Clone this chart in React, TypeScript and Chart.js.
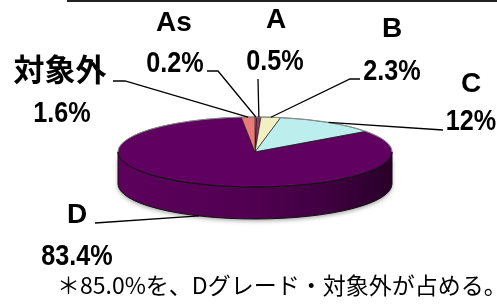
import React, { useEffect, useRef } from 'react';
import { Chart, registerables } from 'chart.js';
Chart.register(...registerables);

const categories = ['As', 'A', 'B', 'C', 'D', '対象外'];
const shares = [0.2, 0.5, 2.3, 12, 83.4, 1.6];
const shareLabels = ['0.2%', '0.5%', '2.3%', '12%', '83.4%', '1.6%'];
const sliceColors = ['#9999ff', '#993366', '#f0f0c2', '#bdeeee', '#600060', '#e87a78'];
const noteText = '＊85.0%を、Dグレード・対象外が占める。';

const W = 497;
const H = 305;
const RADIUS = 137;
const RY = 35;
const DEPTH = 32;
const K = RY / RADIUS;

// label placement: name position, value position, leader points (from label side)
const labelLayout = [
  { nx: 174, ny: 31, px: 175, py: 72, leader: [[207, 71], [218, 71]] },
  { nx: 276, ny: 28, px: 275, py: 70, leader: [[258, 79]] },
  { nx: 392, ny: 37, px: 392, py: 80, leader: [[360, 79], [350, 79]] },
  { nx: 471, ny: 92, px: 471, py: 130, leader: [[443, 130]] },
  { nx: 77, ny: 223, px: 77, py: 265, leader: [[95, 223]] },
  { nx: 60, ny: 81, px: 62, py: 122, leader: [[113, 81], [125, 81]] },
];

function shade(hex: string, f: number) {
  const n = parseInt(hex.slice(1), 16);
  const r = Math.round(((n >> 16) & 255) * f);
  const g = Math.round(((n >> 8) & 255) * f);
  const b = Math.round((n & 255) * f);
  return `rgb(${r},${g},${b})`;
}

const pie3d = {
  id: 'pie3d',
  beforeDatasetsDraw(chart: any) {
    const ctx = chart.ctx as CanvasRenderingContext2D;
    const meta = chart.getDatasetMeta(0);
    ctx.save();
    meta.data.forEach((el: any, i: number) => {
      const { x, y, startAngle, endAngle, outerRadius } = el.getProps(
        ['x', 'y', 'startAngle', 'endAngle', 'outerRadius'], true);
      const ry = outerRadius * K;
      for (const off of [0, 2 * Math.PI, -2 * Math.PI]) {
        const a1 = Math.max(startAngle + off, 0);
        const a2 = Math.min(endAngle + off, Math.PI);
        if (a2 <= a1) continue;
        const g = ctx.createLinearGradient(x - outerRadius, 0, x + outerRadius, 0);
        const c = sliceColors[i];
        g.addColorStop(0, shade(c, 0.97));
        g.addColorStop(0.45, shade(c, 0.85));
        g.addColorStop(0.75, shade(c, 0.68));
        g.addColorStop(1, shade(c, 0.42));
        ctx.save();
        ctx.beginPath();
        ctx.ellipse(x, y, outerRadius, ry, 0, a1, a2, false);
        ctx.lineTo(x + outerRadius * Math.cos(a2), y + DEPTH + ry * Math.sin(a2));
        ctx.ellipse(x, y + DEPTH, outerRadius, ry, 0, a2, a1, true);
        ctx.closePath();
        ctx.shadowColor = 'rgba(0,0,0,0.35)';
        ctx.shadowBlur = 4;
        ctx.shadowOffsetY = 2;
        ctx.fillStyle = g;
        ctx.fill();
        ctx.restore();
        ctx.save();
        ctx.strokeStyle = '#111';
        ctx.lineWidth = 1;
        ctx.beginPath();
        ctx.moveTo(x + outerRadius * Math.cos(a1), y + ry * Math.sin(a1));
        ctx.lineTo(x + outerRadius * Math.cos(a1), y + DEPTH + ry * Math.sin(a1));
        ctx.ellipse(x, y + DEPTH, outerRadius, ry, 0, a1, a2, false);
        ctx.lineTo(x + outerRadius * Math.cos(a2), y + ry * Math.sin(a2));
        ctx.stroke();
        ctx.restore();
      }
    });
    const cy = meta.data[0].y;
    ctx.translate(0, cy);
    ctx.scale(1, K);
    ctx.translate(0, -cy);
  },
  afterDatasetsDraw(chart: any) {
    const ctx = chart.ctx as CanvasRenderingContext2D;
    ctx.restore();
    const meta = chart.getDatasetMeta(0);
    const el0 = meta.data[0];
    const x = el0.x, y = el0.y, R = el0.outerRadius, ry = R * K;
    // rims
    ctx.save();
    ctx.lineWidth = 1;
    ctx.strokeStyle = 'rgba(150,150,150,0.8)';
    ctx.beginPath();
    ctx.ellipse(x, y, R, ry, 0, Math.PI, 2 * Math.PI, false);
    ctx.stroke();
    ctx.strokeStyle = '#111';
    ctx.beginPath();
    ctx.ellipse(x, y, R, ry, 0, 0, Math.PI, false);
    ctx.stroke();
    ctx.restore();

    // top rule
    ctx.fillStyle = '#222';
    ctx.fillRect(67, 0, W - 67, 2);

    // leaders and labels
    meta.data.forEach((el: any, i: number) => {
      const mid = (el.startAngle + el.endAngle) / 2;
      const ax = el.x + el.outerRadius * Math.cos(mid);
      let ay = el.y + el.outerRadius * K * Math.sin(mid);
      if (Math.sin(mid) > 0.2) ay += DEPTH;
      const L = labelLayout[i];
      ctx.save();
      ctx.strokeStyle = '#000';
      ctx.lineWidth = 1.3;
      ctx.beginPath();
      L.leader.forEach((p, j) => (j === 0 ? ctx.moveTo(p[0], p[1]) : ctx.lineTo(p[0], p[1])));
      ctx.lineTo(ax, ay);
      ctx.stroke();
      ctx.restore();

      ctx.save();
      ctx.fillStyle = '#000';
      ctx.textAlign = 'center';
      ctx.textBaseline = 'alphabetic';
      const name = categories[i];
      if (/^[A-Za-z]+$/.test(name)) {
        ctx.font = "bold 28px 'Liberation Sans', Arial, sans-serif";
      } else {
        ctx.font = "bold 31px 'Noto Sans CJK JP', sans-serif";
      }
      ctx.fillText(name, L.nx, L.ny);
      ctx.translate(L.px, L.py);
      ctx.scale(0.84, 1);
      ctx.font = "bold 30px 'Liberation Sans', Arial, sans-serif";
      ctx.fillText(shareLabels[i], 0, 0);
      ctx.restore();
    });

    ctx.save();
    ctx.fillStyle = '#000';
    ctx.textAlign = 'left';
    ctx.font = "23px 'Noto Sans CJK JP', sans-serif";
    ctx.fillText(noteText, 57, 294);
    ctx.restore();
  },
};

export default function App() {
  const ref = useRef<HTMLCanvasElement>(null);
  useEffect(() => {
    const chart = new Chart(ref.current as HTMLCanvasElement, {
      type: 'pie',
      data: {
        labels: categories,
        datasets: [
          {
            data: shares,
            backgroundColor: sliceColors,
            borderColor: '#111',
            borderWidth: 1,
            radius: RADIUS,
            clip: false,
          } as any,
        ],
      },
      options: {
        responsive: false,
        animation: false,
        events: [],
        layout: { padding: { left: 13, right: 0, top: 0, bottom: 1 } },
        plugins: { legend: { display: false }, tooltip: { enabled: false } },
      },
      plugins: [pie3d],
    });
    return () => chart.destroy();
  }, []);
  return (
    <div style={{ position: 'absolute', left: 0, top: 0, width: W, height: H, background: '#fff' }}>
      <canvas ref={ref} width={W} height={H} style={{ display: 'block', width: W, height: H }} />
    </div>
  );
}
